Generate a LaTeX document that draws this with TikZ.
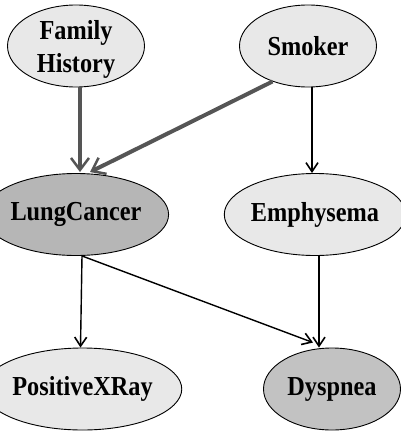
\documentclass[tikz,border=0pt]{standalone}
\usepackage{fontspec}
\usepackage{graphicx}
\setmainfont{Liberation Serif}
\usetikzlibrary{shapes.geometric,arrows.meta}
\definecolor{lightfill}{HTML}{E8E8E8}
\definecolor{darkfill}{HTML}{B6B6B6}
\definecolor{midfill}{HTML}{C2C2C2}
\definecolor{arrowgray}{HTML}{555555}
\newcommand{\tallt}[1]{\raisebox{-2.5pt}{\scalebox{1}[1.13]{#1}}}
\begin{document}
\begin{tikzpicture}[x=1pt,y=-1pt,
  bnode/.style={ellipse,draw=black,line width=0.9pt,inner sep=0pt,
    minimum width=137pt,minimum height=82pt,
    font=\fontsize{24.3}{29.5}\selectfont\bfseries,align=center},
  strong/.style={draw=arrowgray,line width=4pt,
    -{Straight Barb[length=12pt,width=18pt,line width=2.5pt]}},
  weak/.style={draw=black,line width=1.4pt,
    -{Straight Barb[length=9pt,width=12pt,line width=1.6pt]}}]
\useasboundingbox (0,0) rectangle (401,431);
\node[bnode,fill=lightfill] (fh) at (76,46) {};
\node[font=\fontsize{24.3}{29.5}\selectfont\bfseries,inner sep=0pt] (fht) at (76,49.5)
  {\scalebox{1}[1.13]{\begin{tabular}{@{}c@{}}Family\\History\end{tabular}}};
\node[bnode,fill=lightfill] (sm) at (308,46) {\tallt{Smoker}};
\node[bnode,fill=darkfill] (lc) at (76,214.5) {\tallt{LungCancer}};
\node[bnode,fill=lightfill,minimum width=134pt] (em) at (315,214.5) {\tallt{Emphysema}};
\node[bnode,fill=lightfill,minimum width=139pt] (px) at (82.5,389) {\tallt{PositiveXRay}};
\node[bnode,fill=midfill] (dy) at (332,389) {\tallt{Dyspnea}};
\draw[strong] ([xshift=4pt]fh.south) -- ([xshift=4pt,yshift=1pt]lc.north);
\draw[strong] (sm.-135) -- ([xshift=14pt,yshift=1pt]lc.north);
\draw[weak] ([xshift=4pt]sm.south) -- ([xshift=-3pt]em.north);
\draw[weak] ([xshift=6pt]lc.south) -- ([xshift=-2pt]px.north);
\draw[weak] ([xshift=6pt]lc.south) -- ([xshift=-19pt,yshift=5pt]dy.north);
\draw[weak] ([xshift=4pt]em.south) -- ([xshift=-13pt]dy.north);
\end{tikzpicture}
\end{document}
